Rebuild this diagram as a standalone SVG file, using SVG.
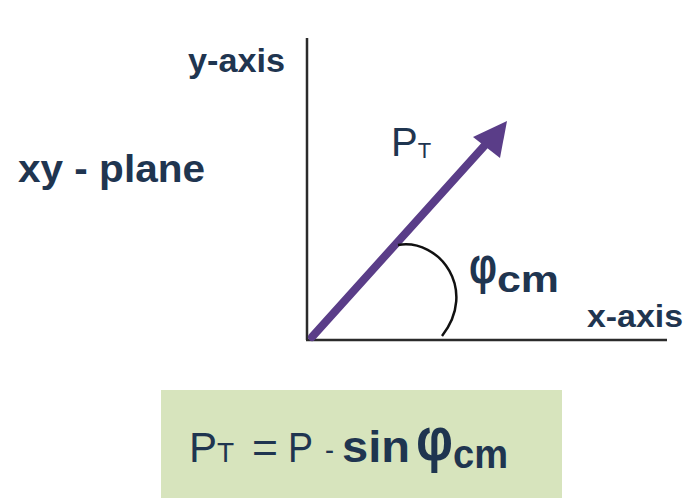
<svg xmlns="http://www.w3.org/2000/svg" width="689" height="502" viewBox="0 0 689 502">
<style>
.t{font-family:"Liberation Sans",Arial,sans-serif;fill:#1f3550;}
.b{font-weight:bold;}
.axis{stroke:#2b2b2b;stroke-width:2.5;fill:none;}
</style>
<rect width="689" height="502" fill="#ffffff"/>
<g id="axes">
<line class="axis" x1="307" y1="38" x2="307" y2="340"/>
<line class="axis" x1="306" y1="340" x2="667" y2="340"/>
</g>
<g id="connectors">
<line x1="312" y1="337" x2="486" y2="144" stroke="#5a3d88" stroke-width="8" stroke-linecap="round"/>
<polygon points="507,121 473,137 500,158" fill="#5a3d88"/>
<path d="M398,245 C440,238 478,290 442,336" fill="none" stroke="#111" stroke-width="2.5"/>
</g>
<g id="labels">
<text class="t b" x="188" y="72" font-size="33" textLength="97" lengthAdjust="spacingAndGlyphs">y-axis</text>
<text class="t b" x="18" y="182" font-size="38" textLength="187" lengthAdjust="spacingAndGlyphs">xy - plane</text>
<text class="t" x="391" y="156" font-size="40">P<tspan font-size="22" dy="2">T</tspan></text>
<text class="t b" transform="translate(469,283) scale(1,1.25)" font-size="42" textLength="28" lengthAdjust="spacingAndGlyphs">φ</text>
<text class="t b" x="497" y="292" font-size="37" textLength="62" lengthAdjust="spacingAndGlyphs">cm</text>
<text class="t b" x="587" y="327" font-size="32" textLength="96" lengthAdjust="spacingAndGlyphs">x-axis</text>
</g>
<g id="formula">
<rect x="161" y="390" width="401" height="108" fill="#d7e4bd"/>
<text class="t" x="189" y="462" font-size="42">P<tspan font-size="28">T</tspan></text>
<text class="t" x="252" y="462" font-size="42" textLength="26" lengthAdjust="spacingAndGlyphs">=</text>
<text class="t" x="288" y="462" font-size="42" textLength="25" lengthAdjust="spacingAndGlyphs">P</text>
<text class="t" x="325" y="460" font-size="30" textLength="9" lengthAdjust="spacingAndGlyphs">-</text>
<text class="t b" x="342" y="462" font-size="44" textLength="68" lengthAdjust="spacingAndGlyphs">sin</text>
<text class="t b" transform="translate(416,460) scale(1,1.1)" font-size="56" textLength="37" lengthAdjust="spacingAndGlyphs">φ</text>
<text class="t b" x="453" y="468" font-size="40" textLength="55" lengthAdjust="spacingAndGlyphs">cm</text>
</g>
</svg>
